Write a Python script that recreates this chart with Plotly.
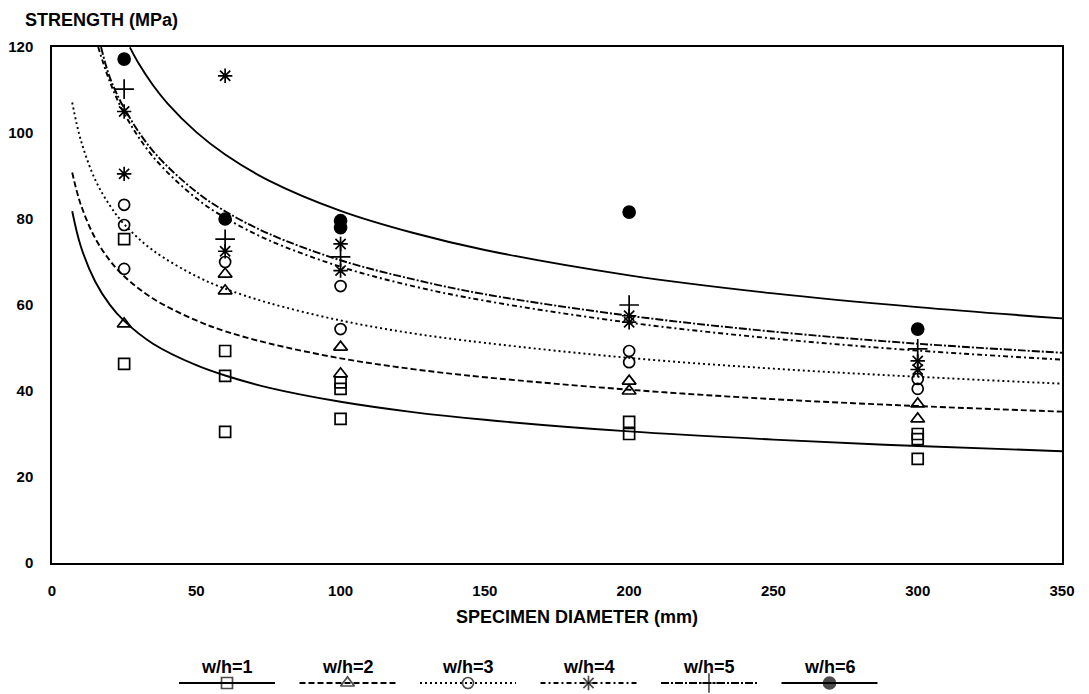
import plotly.graph_objects as go

# ---------------- data ----------------
SERIES = ["w/h=1", "w/h=2", "w/h=3", "w/h=4", "w/h=5", "w/h=6"]

# measured points: specimen diameter (mm) / strength (MPa)
wh1_x = [25, 25, 60, 60, 60, 100, 100, 100, 200, 200, 300, 300, 300]
wh1_y = [75.3, 46.3, 49.3, 43.5, 30.5, 42.0, 40.5, 33.5, 32.8, 30.0, 30.0, 28.8, 24.2]
wh2_x = [25, 60, 60, 100, 100, 200, 200, 300, 300]
wh2_y = [55.6, 67.2, 63.3, 50.2, 44.0, 42.3, 40.0, 37.0, 33.5]
wh3_x = [25, 25, 25, 60, 100, 100, 200, 200, 300, 300]
wh3_y = [83.3, 78.6, 68.4, 70.0, 64.4, 54.4, 49.3, 46.7, 42.8, 40.5]
wh4_x = [25, 25, 60, 60, 100, 100, 200, 200, 300, 300]
wh4_y = [105.0, 90.5, 113.3, 72.5, 74.2, 68.0, 57.5, 56.0, 47.0, 45.0]
wh5_x = [25, 60, 100, 200, 300]
wh5_y = [110.2, 75.3, 71.2, 60.0, 49.8]
wh6_x = [25, 60, 100, 100, 200, 300]
wh6_y = [117.2, 80.0, 79.6, 78.0, 81.6, 54.4]

# fitted curves
c1_x = [7, 10, 15, 20, 25, 35, 50, 60, 75, 100, 125, 150, 200, 250, 300, 350]
c1_y = [81.8, 73.6, 65.4, 60.1, 56.3, 51.0, 46.0, 43.6, 40.8, 37.5, 35.1, 33.3, 30.6, 28.7, 27.2, 26.0]
c2_x = [7, 10, 15, 20, 25, 35, 50, 60, 75, 100, 125, 150, 200, 250, 300, 350]
c2_y = [90.8, 83.3, 75.5, 70.4, 66.7, 61.5, 56.4, 53.9, 51.1, 47.6, 45.1, 43.2, 40.3, 38.1, 36.5, 35.2]
c3_x = [7, 10, 15, 20, 25, 35, 50, 60, 75, 100, 125, 150, 200, 250, 300, 350]
c3_y = [107.1, 98.3, 89.1, 83.2, 78.8, 72.7, 66.7, 63.8, 60.5, 56.4, 53.4, 51.2, 47.7, 45.2, 43.3, 41.7]
c4_x = [16, 20, 25, 35, 50, 60, 75, 100, 125, 150, 200, 250, 300, 350]
c4_y = [120.0, 112.0, 104.6, 94.5, 84.8, 80.3, 75.1, 68.9, 64.4, 61.0, 55.9, 52.2, 49.4, 47.3]
c5_x = [17, 20, 25, 35, 50, 60, 75, 100, 125, 150, 200, 250, 300, 350]
c5_y = [120.0, 113.0, 105.8, 95.8, 86.3, 81.8, 76.6, 70.4, 66.0, 62.5, 57.5, 53.8, 51.0, 48.9]
c6_x = [27, 30, 35, 40, 50, 60, 75, 100, 125, 150, 200, 250, 300, 350]
c6_y = [119.9, 116.2, 111.1, 106.9, 100.2, 95.0, 89.0, 81.9, 76.8, 72.8, 66.9, 62.7, 59.5, 56.9]

X_TICKS = [0, 50, 100, 150, 200, 250, 300, 350]
Y_TICKS = [0, 20, 40, 60, 80, 100, 120]

# ---------------- styles ----------------
points = [(wh1_x, wh1_y), (wh2_x, wh2_y), (wh3_x, wh3_y),
          (wh4_x, wh4_y), (wh5_x, wh5_y), (wh6_x, wh6_y)]
curves = [(c1_x, c1_y), (c2_x, c2_y), (c3_x, c3_y),
          (c4_x, c4_y), (c5_x, c5_y), (c6_x, c6_y)]
symbols = ["square-open", "triangle-up-open", "circle-open",
           "asterisk-open", "cross-thin-open", "circle"]
msizes = [11, 12, 11, 12, 14, 12]
dashes = ["solid", "6px,3px", "2px,3px", "5px,3px,2px,3px", "8px,2px,2px,2px", "solid"]

TICK_FONT = dict(family="Liberation Sans, Arial", size=15, color="black", weight="bold")
TEXT_FONT = dict(family="Liberation Sans, Arial", size=18, color="black", weight="bold")

fig = go.Figure()

for (cx, cy), dash in zip(curves, dashes):
    fig.add_trace(go.Scatter(x=cx, y=cy, mode="lines",
                             line=dict(color="black", width=1.9, dash=dash, shape="spline", smoothing=1.0),
                             showlegend=False, hoverinfo="skip"))

for (px, py), sym, ms in zip(points, symbols, msizes):
    fig.add_trace(go.Scatter(x=px, y=py, mode="markers",
                             marker=dict(symbol=sym, size=ms, color="black",
                                         line=dict(color="black", width=1.7)),
                             showlegend=False))

# ---------------- custom legend (label above, sample below) ----------------
W, H = 1089, 694
PLOT_L, PLOT_R, PLOT_T, PLOT_B = 52, 1062, 47, 563
main_bottom = (H - PLOT_B) / (H - PLOT_T)
key_top = 0.2
LEG_START, LEG_STEP, LEG_HALF = 227, 120.5, 48
LEG_LINE_Y, LEG_TEXT_Y = H - 683, H - 667

for i, name in enumerate(SERIES):
    cxp = LEG_START + i * LEG_STEP
    fig.add_trace(go.Scatter(
        x=[cxp - LEG_HALF, cxp, cxp + LEG_HALF], y=[LEG_LINE_Y] * 3,
        xaxis="x2", yaxis="y2", mode="lines+markers",
        line=dict(color="black", width=1.9, dash=dashes[i]),
        marker=dict(symbol=symbols[i], size=[0, msizes[i], 0], color="black",
                    line=dict(color="black", width=1.7)),
        showlegend=False, hoverinfo="skip"))
    fig.add_annotation(x=cxp, y=LEG_TEXT_Y, xref="x2", yref="y2", text=name,
                       showarrow=False, font=TEXT_FONT, xanchor="center", yanchor="middle")

fig.add_annotation(x=577, y=H - 617, xref="x2", yref="y2",
                   text="SPECIMEN DIAMETER (mm)", showarrow=False, font=TEXT_FONT,
                   xanchor="center", yanchor="middle")
fig.add_annotation(x=(23 - PLOT_L) / (PLOT_R - PLOT_L), y=1 + (PLOT_T - 20) / (H - PLOT_T),
                   xref="paper", yref="paper", text="STRENGTH (MPa)", showarrow=False,
                   font=TEXT_FONT, xanchor="left", yanchor="middle")

fig.update_layout(
    width=W, height=H,
    margin=dict(l=PLOT_L, r=W - PLOT_R, t=PLOT_T, b=0, autoexpand=False),
    paper_bgcolor="white", plot_bgcolor="white",
    showlegend=False,
    xaxis=dict(range=[0, 350], tickvals=X_TICKS, showgrid=False, zeroline=False,
               showline=True, mirror=True, linecolor="black", linewidth=1.5,
               ticks="", tickfont=TICK_FONT, ticklabelstandoff=13, anchor="y"),
    yaxis=dict(range=[0, 120], tickvals=Y_TICKS, showgrid=False, zeroline=False,
               showline=True, mirror=True, linecolor="black", linewidth=1.5,
               ticks="", tickfont=TICK_FONT, ticklabelstandoff=14,
               domain=[main_bottom, 1], anchor="x"),
    xaxis2=dict(range=[PLOT_L, PLOT_R], domain=[0, 1], visible=False, anchor="y2",
                fixedrange=True),
    yaxis2=dict(range=[0, key_top * (H - PLOT_T)], domain=[0, key_top], visible=False,
                anchor="x2", fixedrange=True),
)

fig.write_html("out.html")
